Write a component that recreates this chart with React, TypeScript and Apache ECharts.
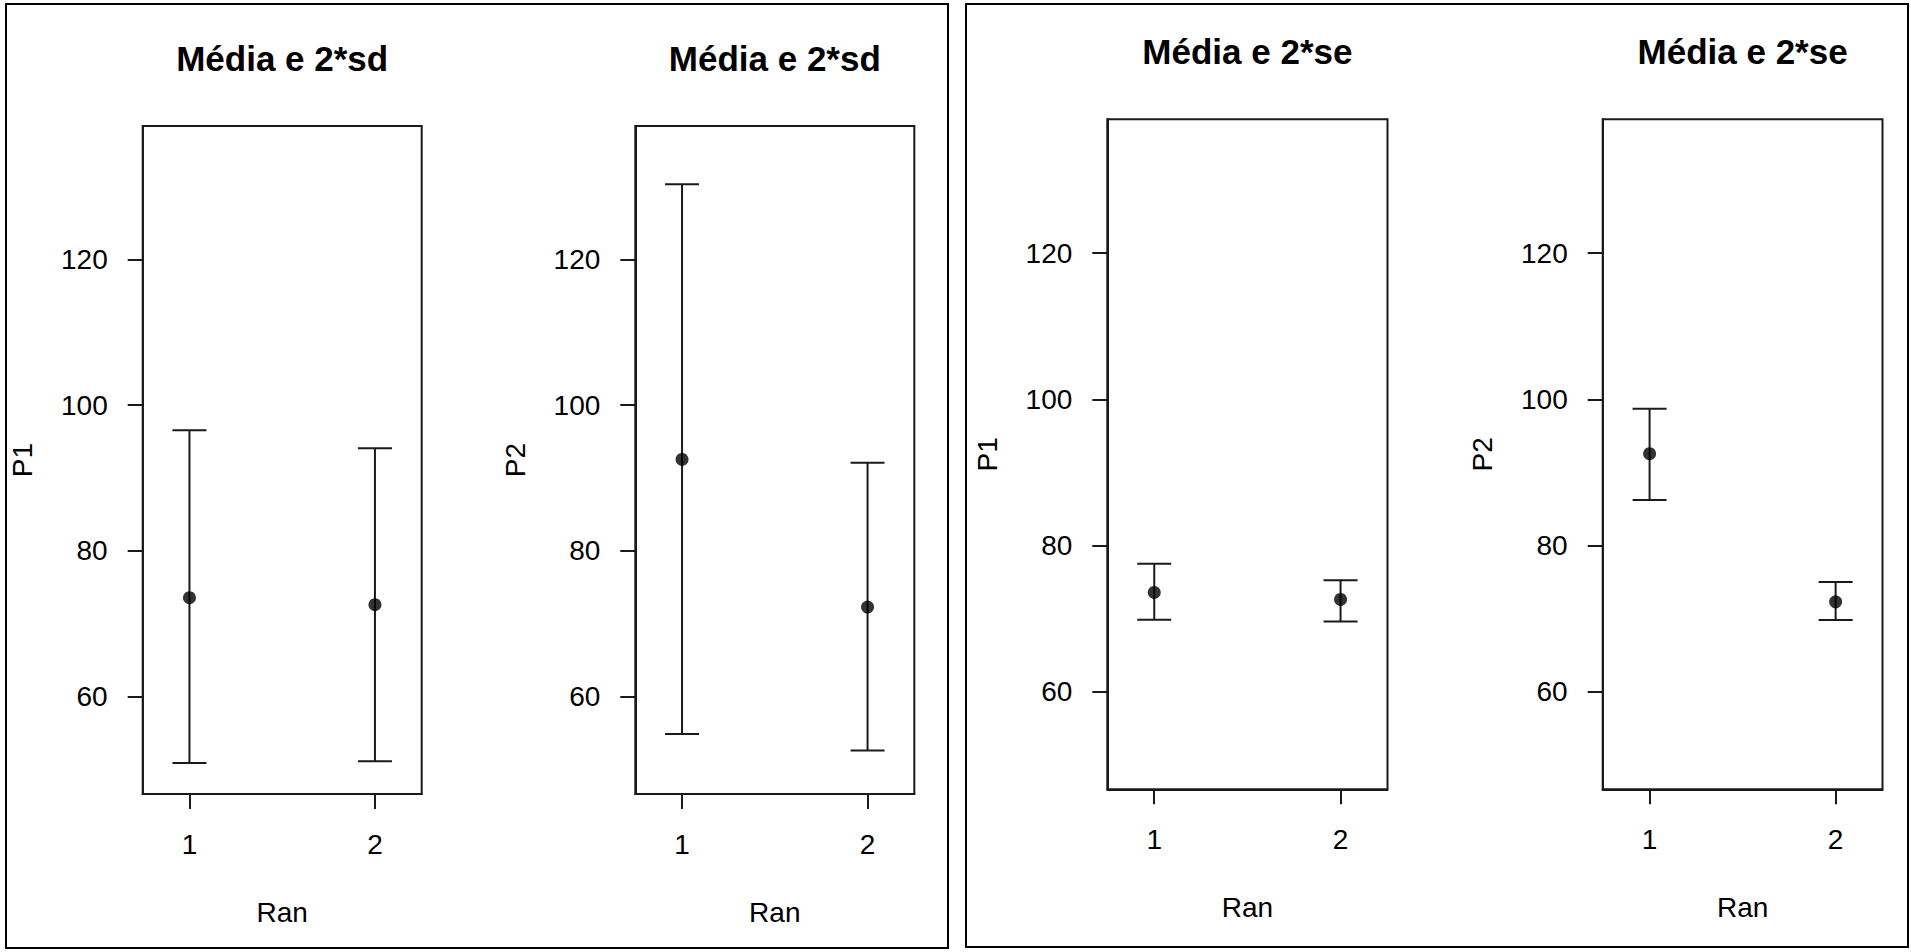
import React, { useEffect, useRef } from "react";
import * as echarts from "echarts";

// ---- data ----
const categories = [1, 2];
const xTickLabels = ["1", "2"];
const yTicks = [60, 80, 100, 120];

const p1Means = [73.55, 72.6];
const p2Means = [92.55, 72.27];

const p1SdLower = [50.86, 51.1];
const p1SdUpper = [96.54, 94.07];
const p2SdLower = [54.84, 52.59];
const p2SdUpper = [130.33, 92.1];

const p1SeLower = [69.81, 69.59];
const p1SeUpper = [77.48, 75.21];
const p2SeLower = [86.22, 69.77];
const p2SeUpper = [98.71, 74.97];

const titles = ["Média e 2*sd", "Média e 2*sd", "Média e 2*se", "Média e 2*se"];
const yNames = ["P1", "P2", "P1", "P2"];
const xName = "Ran";

const Y_MIN = 46.6;
const Y_MAX = 138.33;
const X_MIN = 0.748;
const X_MAX = 2.252;

const W = 1911;
const H = 952;
const FONT = "'Liberation Sans', Arial, Helvetica, sans-serif";
const INK = "#1a1a1a";

const panels = [
  { left: 142.7, right: 421.7, top: 126, bottom: 794, means: p1Means, lo: p1SdLower, hi: p1SdUpper, titleY: 58 },
  { left: 635.3, right: 914.3, top: 126, bottom: 794, means: p2Means, lo: p2SdLower, hi: p2SdUpper, titleY: 58 },
  { left: 1107.3, right: 1387.5, top: 119.3, bottom: 789.3, means: p1Means, lo: p1SeLower, hi: p1SeUpper, titleY: 51 },
  { left: 1602.7, right: 1882.5, top: 119.3, bottom: 789.3, means: p2Means, lo: p2SeLower, hi: p2SeUpper, titleY: 51 },
];

export default function App() {
  const ref = useRef<HTMLDivElement>(null);

  useEffect(() => {
    if (!ref.current) return;
    const chart = echarts.init(ref.current, undefined, { renderer: "svg" });

    const grid = panels.map((p) => ({
      left: p.left,
      top: p.top,
      width: p.right - p.left,
      height: p.bottom - p.top,
      show: true,
      borderColor: INK,
      borderWidth: 2,
      backgroundColor: "transparent",
      containLabel: false,
    }));

    const xAxis = panels.map((p, i) => ({
      type: "value",
      gridIndex: i,
      min: X_MIN,
      max: X_MAX,
      name: xName,
      nameLocation: "middle",
      nameGap: 104,
      nameTextStyle: { fontFamily: FONT, fontSize: 28, color: "#000" },
      axisLine: { show: true, onZero: false, lineStyle: { color: INK, width: 2 } },
      axisTick: { show: true, length: 15, inside: false, customValues: categories, lineStyle: { color: INK, width: 2 } },
      axisLabel: {
        show: true,
        customValues: categories,
        margin: 36,
        fontFamily: FONT,
        fontSize: 28,
        color: "#000",
        formatter: (v: number) => xTickLabels[categories.indexOf(Math.round(v))] ?? "",
      },
      splitLine: { show: false },
    }));

    const yAxis = panels.map((p, i) => ({
      type: "value",
      gridIndex: i,
      min: Y_MIN,
      max: Y_MAX,
      name: yNames[i],
      nameLocation: "middle",
      nameGap: 106,
      nameRotate: 90,
      nameTextStyle: { fontFamily: FONT, fontSize: 28, color: "#000" },
      axisLine: { show: true, onZero: false, lineStyle: { color: INK, width: 2 } },
      axisTick: { show: true, length: 15, inside: false, customValues: yTicks, lineStyle: { color: INK, width: 2 } },
      axisLabel: {
        show: true,
        customValues: yTicks,
        margin: 35,
        fontFamily: FONT,
        fontSize: 28,
        color: "#000",
      },
      splitLine: { show: false },
    }));

    const series: any[] = [];
    panels.forEach((p, i) => {
      series.push({
        type: "custom",
        xAxisIndex: i,
        yAxisIndex: i,
        silent: true,
        clip: false,
        data: categories.map((c, k) => [c, p.lo[k], p.hi[k]]),
        encode: { x: 0, y: [1, 2] },
        renderItem: (params: any, api: any) => {
          const x = api.value(0);
          const pHi = api.coord([x, api.value(2)]);
          const pLo = api.coord([x, api.value(1)]);
          const style = { stroke: INK, lineWidth: 2 };
          const cap = 17;
          return {
            type: "group",
            children: [
              { type: "line", shape: { x1: pHi[0], y1: pHi[1], x2: pLo[0], y2: pLo[1] }, style },
              { type: "line", shape: { x1: pHi[0] - cap, y1: pHi[1], x2: pHi[0] + cap, y2: pHi[1] }, style },
              { type: "line", shape: { x1: pLo[0] - cap, y1: pLo[1], x2: pLo[0] + cap, y2: pLo[1] }, style },
            ],
          };
        },
      });
      series.push({
        type: "scatter",
        xAxisIndex: i,
        yAxisIndex: i,
        silent: true,
        symbol: "circle",
        symbolSize: 13,
        itemStyle: { color: "#000" },
        data: categories.map((c, k) => [c, p.means[k]]),
      });
    });

    const graphic: any[] = [
      { type: "rect", shape: { x: 6, y: 4, width: 942, height: 944 }, style: { fill: "none", stroke: "#000", lineWidth: 2 }, silent: true },
      { type: "rect", shape: { x: 966, y: 4, width: 942, height: 943 }, style: { fill: "none", stroke: "#000", lineWidth: 2 }, silent: true },
      ...panels.map((p, i) => ({
        type: "text",
        x: (p.left + p.right) / 2,
        y: p.titleY,
        silent: true,
        style: {
          text: titles[i],
          fontFamily: FONT,
          fontSize: 35,
          fontWeight: "bold",
          fill: "#000",
          textAlign: "center",
          textVerticalAlign: "middle",
        },
      })),
    ];

    chart.setOption({
      animation: false,
      backgroundColor: "#fff",
      grid,
      xAxis,
      yAxis,
      series,
      graphic,
    });

    return () => chart.dispose();
  }, []);

  return (
    <div
      ref={ref}
      style={{ position: "absolute", left: 0, top: 0, width: W, height: H, background: "#fff" }}
    />
  );
}
